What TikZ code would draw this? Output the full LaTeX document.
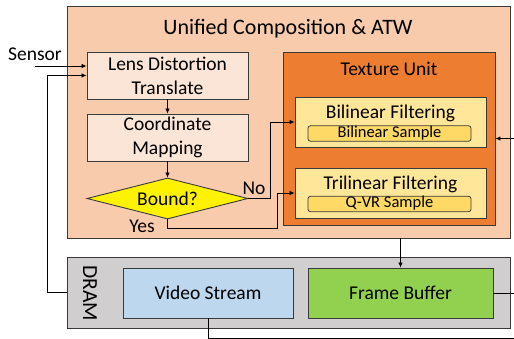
\documentclass[tikz,border=0pt]{standalone}
\usepackage{fontspec}
\setmainfont{Carlito}
\usetikzlibrary{shapes.geometric,arrows.meta}
\definecolor{peach}{HTML}{F8CBAD}
\definecolor{lightpeach}{HTML}{FBE5D6}
\definecolor{texorange}{HTML}{ED7D31}
\definecolor{filtyellow}{HTML}{FFE699}
\definecolor{sampyellow}{HTML}{FFD966}
\definecolor{dramgray}{HTML}{D0CECE}
\definecolor{videoblue}{HTML}{BDD7EE}
\definecolor{fbgreen}{HTML}{92D050}
\definecolor{edge}{HTML}{3A3A3A}
\begin{document}
\begin{tikzpicture}[x=1pt,y=-1pt,
  box/.style={draw=edge, line width=0.9pt, inner sep=0pt, align=center,
    font=\fontsize{19.5}{24}\selectfont},
  txt/.style={inner sep=0pt, align=center, font=\fontsize{19.5}{24}\selectfont},
  samp/.style={draw=edge, line width=0.8pt, fill=sampyellow, rounded corners=2.5pt,
    inner sep=0pt, minimum width=163, minimum height=15.5,
    text height=10.5pt, text depth=2.5pt, font=\fontsize{16.5}{18}\selectfont},
  arr/.style={-{Latex[length=5pt,width=4.5pt]}, line width=0.8pt, draw=black},
  ln/.style={line width=0.8pt, draw=black}]
\useasboundingbox (0,0) rectangle (514,339);

% outer block
\node[box, fill=peach, minimum width=443, minimum height=232] (outer) at (288.5,122) {};
\node[txt, font=\fontsize{22}{26}\selectfont] (title) at (288,29) {Unified Composition \& ATW};

\node[box, fill=lightpeach, minimum width=161, minimum height=47] (lens) at (167.5,75.5) {Lens Distortion\\Translate};
\node[box, fill=lightpeach, minimum width=161, minimum height=47] (coord) at (167.5,137.5) {Coordinate\\Mapping};
\node[box, shape=diamond, aspect=3.9, fill=yellow, minimum width=161, minimum height=41] (bound) at (167.5,198.5) {Bound?};

% texture unit
\node[box, fill=texorange, minimum width=212, minimum height=173] (tex) at (389,138.5) {};
\node[txt] (textitle) at (389,69) {Texture Unit};
\node[box, fill=filtyellow, minimum width=191, minimum height=50] (bil) at (390.5,122) {};
\node[txt] (biltxt) at (390.5,113.5) {Bilinear Filtering};
\node[samp] (bilsamp) at (389.5,133.5) {Bilinear Sample};
\node[box, fill=filtyellow, minimum width=191, minimum height=50] (tri) at (390.5,193) {};
\node[txt] (tritxt) at (390.5,184.5) {Trilinear Filtering};
\node[samp] (trisamp) at (389.5,204) {Q-VR Sample};

% DRAM
\node[box, fill=dramgray, minimum width=443, minimum height=71] (dram) at (288.5,292.5) {};
\node[txt, rotate=-90, font=\fontsize{21.5}{24}\selectfont] (dramtxt) at (90,293) {DRAM};
\node[box, fill=videoblue, minimum width=170, minimum height=50] (video) at (208,293) {Video Stream};
\node[box, fill=fbgreen, minimum width=185, minimum height=50] (fb) at (400.5,293) {Frame Buffer};

% labels
\node[txt] (sensor) at (35,54) {Sensor};
\node[txt] (no) at (254,188) {No};
\node[txt] (yes) at (142,226) {Yes};

% free ends
\coordinate (sensorpt) at (35,66);
\coordinate (rin) at (514,138.5);
\coordinate (fbout) at (514,293);
\coordinate (vidout) at (514,338);

% connectors
\draw[arr] (sensorpt) -- (sensorpt -| lens.west);
\draw[arr] (dram.west) -- (47,292.5) |- (lens.west);
\draw[arr] (lens.south) -- (coord.north);
\draw[arr] (coord.south) -- (bound.north);
\draw[arr] (bound.east) -- (270,198.5) |- (bil.west);
\draw[arr] (bound.south) -- (167.5,228) -- (277,228) |- (tri.west);
\draw[arr] (rin) -- (tex.east);
\draw[arr] (fb.north |- outer.south) -- (fb.north);
\draw[ln] (fb.east) -- (fbout);
\draw[ln] (video.south) -- (video.south |- vidout) -- (vidout);
\end{tikzpicture}
\end{document}
